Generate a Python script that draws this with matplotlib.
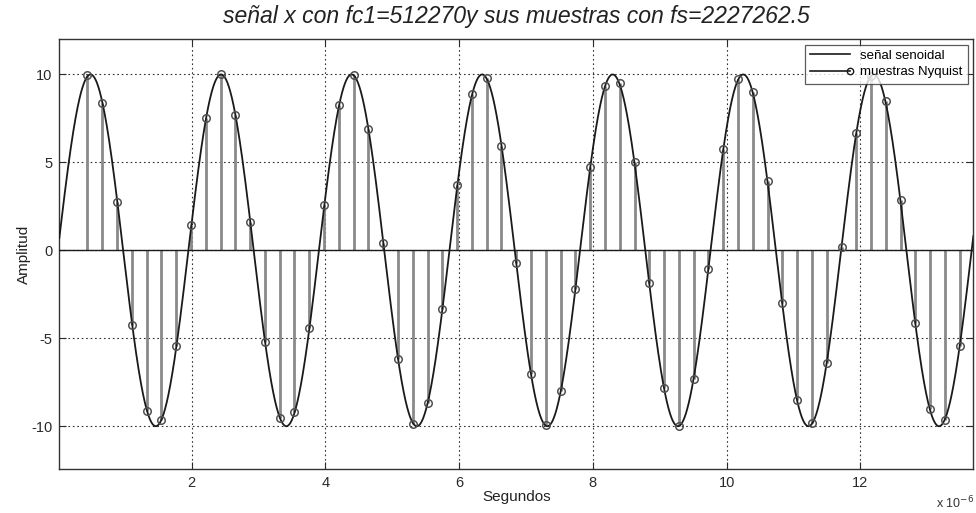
import numpy as np
import matplotlib
matplotlib.use("Agg")
import matplotlib.pyplot as plt
from matplotlib.lines import Line2D
from matplotlib.legend_handler import HandlerBase

plt.rcParams['font.family'] = ['Liberation Sans', 'DejaVu Sans']
plt.rcParams['axes.unicode_minus'] = False

# Continuous signal parameters (from the title)
fc1 = 512270.0          # Hz
amplitud = 10.0
t_ini, t_fin = 0.022e-6, 13.69e-6

# Sample instants: n = 2 .. 61, sampling step Ts
Ts = 0.2211e-6
n_muestras = np.arange(2, 62)

# Sample values
valores_muestras = [
    9.95, 8.35, 2.75, -4.22, -9.13, -9.62, -5.44, 1.42, 7.54, 10.0,
    7.67, 1.61, -5.23, -9.56, -9.22, -4.39, 2.56, 8.28, 9.98, 6.89,
    0.42, -6.19, -9.85, -8.67, -3.31, 3.69, 8.90, 9.81, 5.95, -0.72,
    -7.06, -9.94, -8.01, -2.18, 4.73, 9.34, 9.52, 5.02, -1.86, -7.82,
    -10.0, -7.29, -1.04, 5.74, 9.75, 9.00, 3.94, -2.99, -8.52, -9.81,
    -6.40, 0.19, 6.66, 9.91, 8.47, 2.88, -4.13, -9.05, -9.62, -5.45,
]

x_ticks = [2, 4, 6, 8, 10, 12]
y_ticks = [-10, -5, 0, 5, 10]

t = np.linspace(t_ini, t_fin, 4000)
senal = amplitud * np.sin(2 * np.pi * fc1 * t)
t_m = n_muestras * Ts

escala = 1e6  # axis shown in units of 1e-6 s

fig = plt.figure(figsize=(9.76, 5.13), dpi=100)
ax = fig.add_axes([0.0608, 0.0852, 0.9365, 0.8382])

stem_color = '#8a8a8a'
ax.vlines(t_m * escala, 0, valores_muestras, colors=stem_color, lw=2.0, zorder=2)
ax.plot(t_m * escala, valores_muestras, 'o', ms=5.4, mfc='none', mec='#505050',
        mew=1.1, zorder=4)
ax.axhline(0, color='#1a1a1a', lw=1.0, zorder=3)
ax.plot(t * escala, senal, color='#1a1a1a', lw=1.3, zorder=3)

ax.set_xlim(t_ini * escala, t_fin * escala)
ax.set_ylim(-12.45, 12.0)
ax.set_xticks(x_ticks)
ax.set_yticks(y_ticks)
ax.tick_params(direction='in', length=5, width=0.8, top=True, right=True,
               labelsize=10.5, colors='#2a2a2a', pad=5)
ax.grid(True, color='#333333', linestyle=(0, (1.5, 2.5)), lw=0.8)
for s in ax.spines.values():
    s.set_color('#333333')
    s.set_linewidth(1.0)

ax.set_title('señal x con fc1=512270y sus muestras con fs=2227262.5',
             fontstyle='italic', fontsize=16.6, color='#222222', pad=12)
ax.set_xlabel('Segundos', fontsize=11, color='#222222', labelpad=0)
ax.set_ylabel('Amplitud', fontsize=11, color='#222222', labelpad=0)
fig.text(0.998, 0.004, r'x 10$^{-6}$', ha='right', va='bottom', fontsize=9,
         color='#333333')


class HandlerStem(HandlerBase):
    def create_artists(self, legend, orig_handle, xdescent, ydescent,
                       width, height, fontsize, trans):
        y = height / 2 - ydescent
        linea = Line2D([-xdescent, width - xdescent], [y, y], color='#1a1a1a', lw=1.2)
        marca = Line2D([width - xdescent], [y], marker='o', ms=4.6, mfc='none',
                       mec='#1a1a1a', mew=1.0, ls='none')
        for a in (linea, marca):
            a.set_transform(trans)
        return [linea, marca]


h_senal = Line2D([], [], color='#1a1a1a', lw=1.2)
h_muestras = Line2D([], [], color='#1a1a1a')
leg = ax.legend([h_senal, h_muestras], ['señal senoidal', 'muestras Nyquist'],
                handler_map={h_muestras: HandlerStem()},
                loc='upper right', fontsize=9.5, frameon=True, fancybox=False,
                edgecolor='#333333', borderpad=0.4, labelspacing=0.3,
                handlelength=3.0, handletextpad=0.8, borderaxespad=0.4)
leg.get_frame().set_linewidth(0.9)
leg.set_zorder(10)

fig.savefig('out.png', dpi=100, facecolor='white')
